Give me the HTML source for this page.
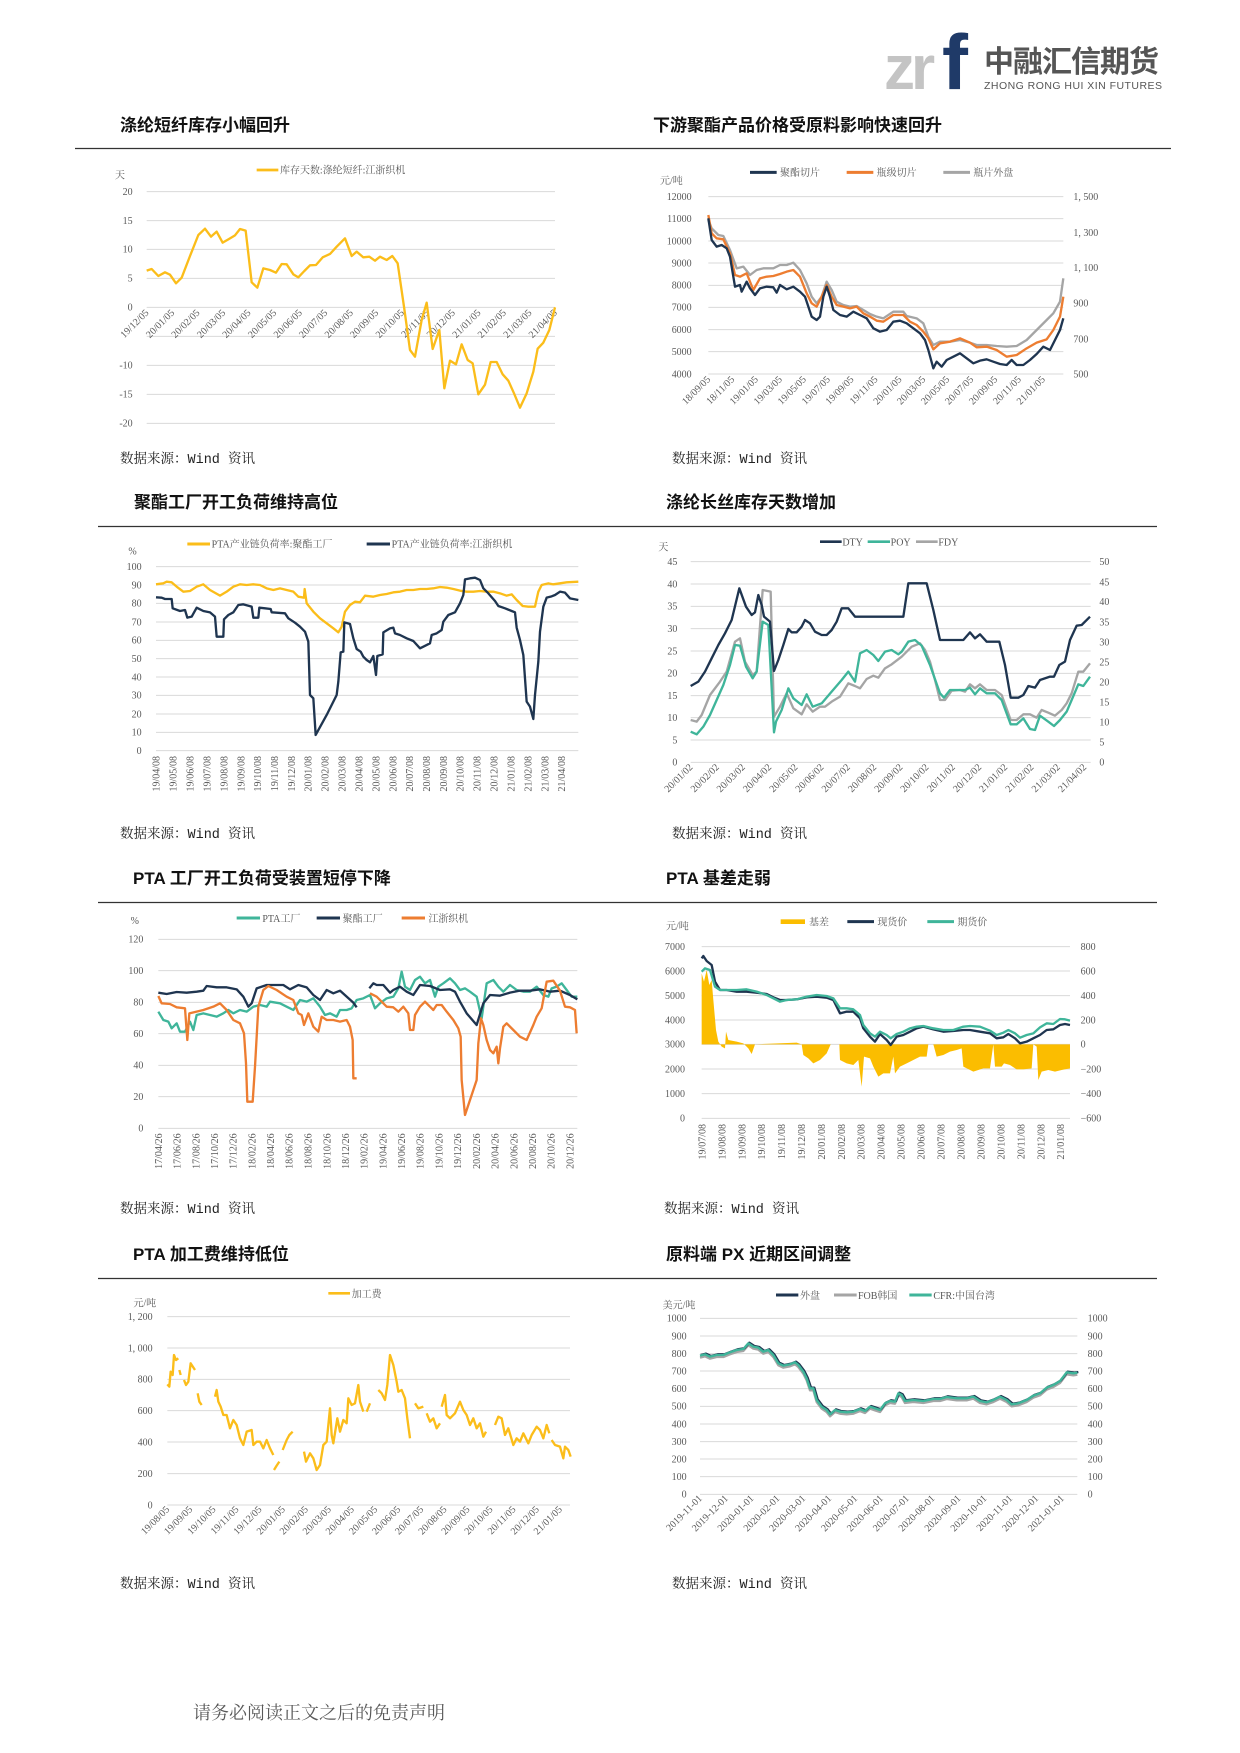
<!DOCTYPE html>
<html><head><meta charset="utf-8"><style>
html,body{margin:0;padding:0;background:#fff;}
svg{display:block;}
.t{font-family:"Liberation Serif","Noto Serif CJK SC",serif;fill:#595959;font-size:30px;}
.lg{font-family:"Liberation Serif","Noto Serif CJK SC",serif;fill:#595959;font-size:30px;}
.h{font-family:"Liberation Sans","Noto Sans CJK SC",sans-serif;font-weight:bold;font-size:17px;fill:#111;}
.src{font-family:"Liberation Mono","Noto Serif CJK SC",serif;font-size:13.5px;fill:#222;}
.g{stroke:#d9d9d9;stroke-width:3;}
.ln{fill:none;stroke-width:7;stroke-linejoin:round;}
</style></head><body>
<svg width="1240" height="1753" viewBox="0 0 1240 1753" xmlns="http://www.w3.org/2000/svg">
<rect width="1240" height="1753" fill="#fff"/>
<!-- logo -->
<text x="884" y="89" font-family="Liberation Sans,sans-serif" font-size="62" font-weight="bold" fill="#c4c4c4" letter-spacing="-4">zr</text>
<text x="942" y="89" font-family="Liberation Sans,sans-serif" font-size="78" font-weight="bold" fill="#1f3a68">f</text>
<text x="984" y="72" font-family="Liberation Sans,'Noto Sans CJK SC',sans-serif" font-size="30" font-weight="bold" fill="#555" letter-spacing="-1">中融汇信期货</text>
<text x="984" y="89" font-family="Liberation Sans,sans-serif" font-size="10.5" fill="#555" textLength="178">ZHONG RONG HUI XIN FUTURES</text>

<!-- titles -->
<text class="h" x="120" y="131">涤纶短纤库存小幅回升</text>
<text class="h" x="653" y="131">下游聚酯产品价格受原料影响快速回升</text>
<line x1="75" y1="148.5" x2="1171" y2="148.5" stroke="#333" stroke-width="1.3"/>
<text class="h" x="134" y="508">聚酯工厂开工负荷维持高位</text>
<text class="h" x="666" y="508">涤纶长丝库存天数增加</text>
<line x1="98" y1="526.5" x2="1157" y2="526.5" stroke="#333" stroke-width="1.3"/>
<text class="h" x="133" y="884">PTA 工厂开工负荷受装置短停下降</text>
<text class="h" x="666" y="884">PTA 基差走弱</text>
<line x1="98" y1="902.5" x2="1157" y2="902.5" stroke="#333" stroke-width="1.3"/>
<text class="h" x="133" y="1260">PTA 加工费维持低位</text>
<text class="h" x="666" y="1260">原料端 PX 近期区间调整</text>
<line x1="98" y1="1278.5" x2="1157" y2="1278.5" stroke="#333" stroke-width="1.3"/>

<!-- sources -->
<text class="src" x="120" y="463">数据来源：Wind 资讯</text>
<text class="src" x="672" y="463">数据来源：Wind 资讯</text>
<text class="src" x="120" y="838">数据来源：Wind 资讯</text>
<text class="src" x="672" y="838">数据来源：Wind 资讯</text>
<text class="src" x="120" y="1213">数据来源：Wind 资讯</text>
<text class="src" x="664" y="1213">数据来源：Wind 资讯</text>
<text class="src" x="120" y="1588">数据来源：Wind 资讯</text>
<text class="src" x="672" y="1588">数据来源：Wind 资讯</text>

<text x="193" y="1719" font-family="Liberation Serif,'Noto Serif CJK SC',serif" font-size="18" fill="#595959">请务必阅读正文之后的免责声明</text>

<!-- CHART 1 -->
<g transform="translate(100,150) scale(0.33333)">
<g class="g"><line x1="140" y1="125" x2="1365" y2="125"/><line x1="140" y1="212" x2="1365" y2="212"/><line x1="140" y1="298" x2="1365" y2="298"/><line x1="140" y1="385" x2="1365" y2="385"/><line x1="140" y1="472" x2="1365" y2="472"/><line x1="140" y1="559" x2="1365" y2="559"/><line x1="140" y1="646" x2="1365" y2="646"/><line x1="140" y1="733" x2="1365" y2="733"/><line x1="140" y1="820" x2="1365" y2="820"/></g>
<g class="t" text-anchor="end"><text x="98" y="135">20</text><text x="98" y="222">15</text><text x="98" y="308">10</text><text x="98" y="395">5</text><text x="98" y="482">0</text><text x="98" y="656">-10</text><text x="98" y="743">-15</text><text x="98" y="830">-20</text></g>
<text class="t" x="45" y="85">天</text>
<line x1="470" y1="60" x2="535" y2="60" stroke="#fbbd1a" stroke-width="8"/><text class="lg" x="540" y="70">库存天数:涤纶短纤:江浙织机</text>
<g class="t" text-anchor="end">
<text transform="translate(148,490) rotate(-45)">19/12/05</text><text transform="translate(225,490) rotate(-45)">20/01/05</text><text transform="translate(301,490) rotate(-45)">20/02/05</text><text transform="translate(378,490) rotate(-45)">20/03/05</text><text transform="translate(454,490) rotate(-45)">20/04/05</text><text transform="translate(531,490) rotate(-45)">20/05/05</text><text transform="translate(608,490) rotate(-45)">20/06/05</text><text transform="translate(684,490) rotate(-45)">20/07/05</text><text transform="translate(761,490) rotate(-45)">20/08/05</text><text transform="translate(837,490) rotate(-45)">20/09/05</text><text transform="translate(914,490) rotate(-45)">20/10/05</text><text transform="translate(990,490) rotate(-45)">20/11/05</text><text transform="translate(1067,490) rotate(-45)">20/12/05</text><text transform="translate(1144,490) rotate(-45)">21/01/05</text><text transform="translate(1220,490) rotate(-45)">21/02/05</text><text transform="translate(1297,490) rotate(-45)">21/03/05</text><text transform="translate(1373,490) rotate(-45)">21/04/05</text></g>
<polyline class="ln" stroke="#fbbd1a" points="140,362 155,357 175,378 195,367 210,374 228,400 245,383 270,318 295,255 315,236 333,260 350,245 368,278 385,268 405,256 420,237 437,242 455,397 472,413 490,355 510,360 528,368 545,342 560,343 580,373 595,382 613,363 630,346 648,345 668,322 690,312 710,290 735,265 755,318 770,305 790,322 808,320 825,332 840,320 860,330 877,318 893,340 912,470 930,600 945,620 965,510 980,458 998,597 1018,540 1033,715 1050,632 1068,643 1085,583 1103,630 1118,640 1135,733 1155,704 1172,636 1190,636 1208,673 1225,692 1242,730 1260,773 1280,730 1300,665 1313,596 1330,578 1348,540 1365,472"/>
</g>

<!-- CHART 2 -->
<g transform="translate(640,150) scale(0.33333)">
<g class="g"><line x1="205" y1="140" x2="1270" y2="140"/><line x1="205" y1="206" x2="1270" y2="206"/><line x1="205" y1="273" x2="1270" y2="273"/><line x1="205" y1="339" x2="1270" y2="339"/><line x1="205" y1="406" x2="1270" y2="406"/><line x1="205" y1="472" x2="1270" y2="472"/><line x1="205" y1="539" x2="1270" y2="539"/><line x1="205" y1="605" x2="1270" y2="605"/><line x1="205" y1="672" x2="1270" y2="672"/></g>
<g class="t" text-anchor="end"><text x="155" y="150">12000</text><text x="155" y="216">11000</text><text x="155" y="283">10000</text><text x="155" y="349">9000</text><text x="155" y="416">8000</text><text x="155" y="482">7000</text><text x="155" y="549">6000</text><text x="155" y="615">5000</text><text x="155" y="682">4000</text></g>
<g class="t"><text x="1300" y="150">1, 500</text><text x="1300" y="258">1, 300</text><text x="1300" y="363">1, 100</text><text x="1300" y="470">900</text><text x="1300" y="577">700</text><text x="1300" y="682">500</text></g>
<text class="t" x="60" y="102">元/吨</text>
<line x1="330" y1="67" x2="410" y2="67" stroke="#1f3550" stroke-width="9"/><text class="lg" x="420" y="78">聚酯切片</text>
<line x1="620" y1="67" x2="700" y2="67" stroke="#ed7d31" stroke-width="9"/><text class="lg" x="710" y="78">瓶级切片</text>
<line x1="910" y1="67" x2="990" y2="67" stroke="#a5a5a5" stroke-width="9"/><text class="lg" x="1000" y="78">瓶片外盘</text>
<g class="t" text-anchor="end">
<text transform="translate(213,690) rotate(-45)">18/09/05</text><text transform="translate(285,690) rotate(-45)">18/11/05</text><text transform="translate(356,690) rotate(-45)">19/01/05</text><text transform="translate(428,690) rotate(-45)">19/03/05</text><text transform="translate(500,690) rotate(-45)">19/05/05</text><text transform="translate(572,690) rotate(-45)">19/07/05</text><text transform="translate(643,690) rotate(-45)">19/09/05</text><text transform="translate(715,690) rotate(-45)">19/11/05</text><text transform="translate(787,690) rotate(-45)">20/01/05</text><text transform="translate(858,690) rotate(-45)">20/03/05</text><text transform="translate(930,690) rotate(-45)">20/05/05</text><text transform="translate(1002,690) rotate(-45)">20/07/05</text><text transform="translate(1074,690) rotate(-45)">20/09/05</text><text transform="translate(1145,690) rotate(-45)">20/11/05</text><text transform="translate(1217,690) rotate(-45)">21/01/05</text></g>
<polyline class="ln" stroke="#a5a5a5" points="205,210 215,235 235,255 250,258 270,300 290,355 310,350 330,375 350,360 370,355 400,355 420,345 440,345 460,338 480,360 500,400 515,440 530,460 545,440 560,395 575,420 590,455 610,465 630,470 650,468 670,480 690,492 710,500 730,505 760,485 790,485 800,498 830,505 850,520 865,560 880,585 900,575 930,575 960,570 990,578 1010,585 1040,585 1070,588 1100,590 1130,588 1160,570 1190,540 1220,510 1240,490 1260,455 1270,385"/>
<polyline class="ln" stroke="#ed7d31" points="205,195 215,250 230,265 250,268 270,310 285,375 300,380 320,370 340,420 360,385 380,380 400,378 420,372 440,365 460,360 480,380 500,430 515,460 530,470 545,440 560,405 575,440 590,465 610,470 630,475 650,470 670,490 690,500 710,512 730,515 760,495 790,495 810,515 830,525 850,545 865,565 880,598 900,580 930,575 960,565 990,578 1010,592 1040,590 1070,600 1100,620 1130,615 1160,595 1190,578 1220,568 1240,540 1260,500 1270,440"/>
<polyline class="ln" stroke="#1f3550" points="205,205 215,270 230,290 245,285 260,295 270,320 285,410 300,405 305,425 320,395 330,415 345,435 360,415 380,410 400,412 410,428 420,405 440,418 460,410 480,425 495,440 505,470 515,500 530,510 540,500 550,440 560,410 570,440 580,480 600,495 620,500 640,485 660,495 680,505 700,535 720,545 740,540 760,515 780,512 800,520 820,535 840,550 855,570 865,600 880,655 890,635 905,650 920,630 940,620 960,610 980,625 1000,640 1020,632 1040,628 1060,635 1080,642 1100,645 1115,630 1130,645 1150,645 1170,630 1190,612 1210,590 1230,600 1245,570 1260,540 1270,505"/>
</g>

<!-- CHART 3 -->
<g transform="translate(100,525) scale(0.33333)">
<g class="g"><line x1="168" y1="125" x2="1435" y2="125"/><line x1="168" y1="180" x2="1435" y2="180"/><line x1="168" y1="235" x2="1435" y2="235"/><line x1="168" y1="291" x2="1435" y2="291"/><line x1="168" y1="346" x2="1435" y2="346"/><line x1="168" y1="401" x2="1435" y2="401"/><line x1="168" y1="456" x2="1435" y2="456"/><line x1="168" y1="511" x2="1435" y2="511"/><line x1="168" y1="567" x2="1435" y2="567"/><line x1="168" y1="622" x2="1435" y2="622"/><line x1="168" y1="677" x2="1435" y2="677"/></g>
<g class="t" text-anchor="end"><text x="125" y="135">100</text><text x="125" y="190">90</text><text x="125" y="245">80</text><text x="125" y="301">70</text><text x="125" y="356">60</text><text x="125" y="411">50</text><text x="125" y="466">40</text><text x="125" y="521">30</text><text x="125" y="577">20</text><text x="125" y="632">10</text><text x="125" y="687">0</text></g>
<text class="t" x="85" y="88">%</text>
<line x1="262" y1="57" x2="330" y2="57" stroke="#fbbd1a" stroke-width="9"/><text class="lg" x="335" y="68">PTA产业链负荷率:聚酯工厂</text>
<line x1="800" y1="57" x2="870" y2="57" stroke="#1f3550" stroke-width="9"/><text class="lg" x="875" y="68">PTA产业链负荷率:江浙织机</text>
<g class="t" text-anchor="end">
<text transform="translate(179,693) rotate(-90)">19/04/08</text><text transform="translate(230,693) rotate(-90)">19/05/08</text><text transform="translate(281,693) rotate(-90)">19/06/08</text><text transform="translate(331,693) rotate(-90)">19/07/08</text><text transform="translate(382,693) rotate(-90)">19/08/08</text><text transform="translate(433,693) rotate(-90)">19/09/08</text><text transform="translate(483,693) rotate(-90)">19/10/08</text><text transform="translate(534,693) rotate(-90)">19/11/08</text><text transform="translate(585,693) rotate(-90)">19/12/08</text><text transform="translate(635,693) rotate(-90)">20/01/08</text><text transform="translate(686,693) rotate(-90)">20/02/08</text><text transform="translate(737,693) rotate(-90)">20/03/08</text><text transform="translate(787,693) rotate(-90)">20/04/08</text><text transform="translate(838,693) rotate(-90)">20/05/08</text><text transform="translate(889,693) rotate(-90)">20/06/08</text><text transform="translate(939,693) rotate(-90)">20/07/08</text><text transform="translate(990,693) rotate(-90)">20/08/08</text><text transform="translate(1041,693) rotate(-90)">20/09/08</text><text transform="translate(1091,693) rotate(-90)">20/10/08</text><text transform="translate(1142,693) rotate(-90)">20/11/08</text><text transform="translate(1193,693) rotate(-90)">20/12/08</text><text transform="translate(1243,693) rotate(-90)">21/01/08</text><text transform="translate(1294,693) rotate(-90)">21/02/08</text><text transform="translate(1345,693) rotate(-90)">21/03/08</text><text transform="translate(1395,693) rotate(-90)">21/04/08</text></g>
<polyline class="ln" stroke="#fbbd1a" points="168,178 190,175 200,170 215,172 230,185 250,200 270,198 290,185 310,178 330,195 360,212 380,200 400,185 420,178 440,180 460,178 480,180 500,190 520,195 540,190 560,195 580,200 595,215 612,218 614,192 620,235 640,260 660,280 680,295 700,310 715,322 725,305 735,260 750,240 765,230 780,232 795,212 820,215 840,210 860,207 880,202 900,200 920,195 940,195 960,192 980,192 1000,190 1020,186 1040,188 1060,192 1080,197 1100,200 1120,200 1140,198 1160,200 1180,200 1200,205 1220,212 1235,208 1250,225 1268,243 1285,245 1305,245 1315,200 1325,180 1345,175 1360,178 1380,175 1400,172 1435,170"/>
<polyline class="ln" stroke="#1f3550" points="168,217 185,218 195,222 215,222 218,250 240,258 255,255 262,278 275,275 290,248 310,258 330,262 345,275 350,335 370,335 372,283 385,270 400,262 415,240 430,238 455,245 460,278 475,278 478,248 495,250 512,252 515,262 555,265 565,280 585,293 600,305 615,320 625,350 630,510 640,520 647,630 680,570 710,510 715,470 722,382 730,380 733,292 750,297 760,340 770,372 782,380 790,395 800,405 810,412 820,393 828,450 832,393 848,388 850,322 870,310 880,308 885,325 900,330 920,340 940,348 960,370 970,365 990,355 995,330 1010,325 1025,315 1030,290 1045,270 1065,262 1080,235 1090,210 1095,163 1110,160 1125,158 1140,165 1150,190 1165,205 1185,228 1195,243 1215,250 1235,258 1245,262 1250,308 1260,345 1270,390 1280,530 1290,545 1300,582 1305,510 1315,410 1320,320 1330,245 1340,218 1355,214 1365,210 1380,200 1395,203 1410,220 1435,225"/>
</g>

<!-- CHART 4 -->
<g transform="translate(640,525) scale(0.33333)">
<g class="g"><line x1="152" y1="110" x2="1352" y2="110"/><line x1="152" y1="177" x2="1352" y2="177"/><line x1="152" y1="244" x2="1352" y2="244"/><line x1="152" y1="311" x2="1352" y2="311"/><line x1="152" y1="378" x2="1352" y2="378"/><line x1="152" y1="445" x2="1352" y2="445"/><line x1="152" y1="512" x2="1352" y2="512"/><line x1="152" y1="578" x2="1352" y2="578"/><line x1="152" y1="645" x2="1352" y2="645"/><line x1="152" y1="712" x2="1352" y2="712"/></g>
<g class="t" text-anchor="end"><text x="112" y="120">45</text><text x="112" y="187">40</text><text x="112" y="254">35</text><text x="112" y="321">30</text><text x="112" y="388">25</text><text x="112" y="455">20</text><text x="112" y="522">15</text><text x="112" y="588">10</text><text x="112" y="655">5</text><text x="112" y="722">0</text></g>
<g class="t"><text x="1378" y="120">50</text><text x="1378" y="182">45</text><text x="1378" y="240">40</text><text x="1378" y="302">35</text><text x="1378" y="362">30</text><text x="1378" y="422">25</text><text x="1378" y="482">20</text><text x="1378" y="542">15</text><text x="1378" y="602">10</text><text x="1378" y="662">5</text><text x="1378" y="722">0</text></g>
<text class="t" x="55" y="76">天</text>
<line x1="540" y1="50" x2="605" y2="50" stroke="#1f3550" stroke-width="8"/><text class="lg" x="607" y="62" font-size="26">DTY</text>
<line x1="683" y1="50" x2="750" y2="50" stroke="#3fb59a" stroke-width="8"/><text class="lg" x="752" y="62" font-size="26">POY</text>
<line x1="828" y1="50" x2="893" y2="50" stroke="#a5a5a5" stroke-width="8"/><text class="lg" x="895" y="62" font-size="26">FDY</text>
<g class="t" text-anchor="end">
<text transform="translate(160,728) rotate(-45)">20/01/02</text><text transform="translate(239,728) rotate(-45)">20/02/02</text><text transform="translate(317,728) rotate(-45)">20/03/02</text><text transform="translate(396,728) rotate(-45)">20/04/02</text><text transform="translate(475,728) rotate(-45)">20/05/02</text><text transform="translate(553,728) rotate(-45)">20/06/02</text><text transform="translate(632,728) rotate(-45)">20/07/02</text><text transform="translate(711,728) rotate(-45)">20/08/02</text><text transform="translate(790,728) rotate(-45)">20/09/02</text><text transform="translate(868,728) rotate(-45)">20/10/02</text><text transform="translate(947,728) rotate(-45)">20/11/02</text><text transform="translate(1026,728) rotate(-45)">20/12/02</text><text transform="translate(1104,728) rotate(-45)">21/01/02</text><text transform="translate(1183,728) rotate(-45)">21/02/02</text><text transform="translate(1262,728) rotate(-45)">21/03/02</text><text transform="translate(1341,728) rotate(-45)">21/04/02</text></g>
<polyline class="ln" stroke="#a5a5a5" points="152,585 170,590 185,570 210,510 240,470 260,440 285,350 300,340 315,410 338,450 350,440 368,195 392,200 402,575 420,545 440,505 460,550 485,568 500,538 518,560 540,545 555,545 575,530 600,515 625,475 645,483 660,490 680,462 700,452 715,458 735,430 755,418 785,395 800,380 815,365 840,355 855,375 870,410 885,465 900,525 915,525 935,497 960,495 975,500 990,478 1005,490 1020,478 1040,495 1065,495 1085,510 1112,585 1130,585 1150,568 1170,568 1190,578 1205,555 1225,563 1245,572 1265,555 1280,535 1295,505 1315,440 1330,440 1350,415"/>
<polyline class="ln" stroke="#3fb59a" points="152,620 170,628 190,605 210,570 230,525 250,480 270,420 285,360 300,362 318,425 338,460 350,440 368,290 385,300 402,622 408,590 425,555 445,490 460,520 485,540 500,508 518,545 545,535 575,500 605,465 625,440 645,470 660,385 680,375 700,390 715,408 735,380 755,375 775,388 785,380 805,350 825,345 845,362 870,420 900,505 912,518 930,495 960,495 975,495 990,488 1005,508 1020,490 1040,505 1065,505 1085,525 1112,598 1130,598 1150,580 1170,612 1185,615 1200,572 1225,590 1242,603 1260,585 1280,560 1295,525 1315,478 1330,483 1350,455"/>
<polyline class="ln" stroke="#1f3550" points="152,483 175,470 195,440 215,400 235,360 255,325 275,285 298,190 318,245 335,270 345,262 355,210 365,240 372,275 390,290 402,438 415,405 430,360 445,312 455,322 470,322 485,305 495,285 510,295 525,320 545,330 560,330 575,315 590,290 605,250 625,250 645,275 700,275 760,275 790,275 805,175 860,175 880,255 900,345 970,345 990,322 1005,340 1020,328 1040,350 1078,350 1095,420 1112,518 1135,518 1150,510 1165,483 1185,488 1200,465 1230,455 1242,455 1258,420 1275,410 1290,345 1310,302 1325,300 1350,275"/>
</g>

<!-- CHART 5 -->
<g transform="translate(100,900) scale(0.33333)">
<g class="g"><line x1="175" y1="118" x2="1432" y2="118"/><line x1="175" y1="212" x2="1432" y2="212"/><line x1="175" y1="307" x2="1432" y2="307"/><line x1="175" y1="401" x2="1432" y2="401"/><line x1="175" y1="496" x2="1432" y2="496"/><line x1="175" y1="590" x2="1432" y2="590"/><line x1="175" y1="685" x2="1432" y2="685"/></g>
<g class="t" text-anchor="end"><text x="130" y="128">120</text><text x="130" y="222">100</text><text x="130" y="317">80</text><text x="130" y="411">60</text><text x="130" y="506">40</text><text x="130" y="600">20</text><text x="130" y="695">0</text></g>
<text class="t" x="92" y="72">%</text>
<line x1="410" y1="54" x2="480" y2="54" stroke="#3fb59a" stroke-width="9"/><text class="lg" x="487" y="66">PTA工厂</text>
<line x1="650" y1="54" x2="720" y2="54" stroke="#1f3550" stroke-width="9"/><text class="lg" x="728" y="66">聚酯工厂</text>
<line x1="905" y1="54" x2="975" y2="54" stroke="#ed7d31" stroke-width="9"/><text class="lg" x="985" y="66">江浙织机</text>
<g class="t" text-anchor="end">
<text transform="translate(186,700) rotate(-90)">17/04/26</text><text transform="translate(242,700) rotate(-90)">17/06/26</text><text transform="translate(298,700) rotate(-90)">17/08/26</text><text transform="translate(354,700) rotate(-90)">17/10/26</text><text transform="translate(410,700) rotate(-90)">17/12/26</text><text transform="translate(466,700) rotate(-90)">18/02/26</text><text transform="translate(522,700) rotate(-90)">18/04/26</text><text transform="translate(578,700) rotate(-90)">18/06/26</text><text transform="translate(635,700) rotate(-90)">18/08/26</text><text transform="translate(691,700) rotate(-90)">18/10/26</text><text transform="translate(747,700) rotate(-90)">18/12/26</text><text transform="translate(803,700) rotate(-90)">19/02/26</text><text transform="translate(859,700) rotate(-90)">19/04/26</text><text transform="translate(915,700) rotate(-90)">19/06/26</text><text transform="translate(971,700) rotate(-90)">19/08/26</text><text transform="translate(1027,700) rotate(-90)">19/10/26</text><text transform="translate(1083,700) rotate(-90)">19/12/26</text><text transform="translate(1140,700) rotate(-90)">20/02/26</text><text transform="translate(1196,700) rotate(-90)">20/04/26</text><text transform="translate(1252,700) rotate(-90)">20/06/26</text><text transform="translate(1308,700) rotate(-90)">20/08/26</text><text transform="translate(1364,700) rotate(-90)">20/10/26</text><text transform="translate(1420,700) rotate(-90)">20/12/26</text></g>
<polyline class="ln" stroke="#3fb59a" points="175,335 190,360 205,365 215,385 230,370 240,395 255,395 270,365 280,390 290,345 310,340 330,345 350,350 370,340 385,330 400,340 420,330 440,335 460,320 480,315 500,320 510,305 540,310 560,320 580,330 600,300 620,305 640,295 660,320 675,345 690,340 710,350 720,330 740,330 755,325 770,300 790,295 810,285 825,325 840,310 860,295 880,290 895,265 905,215 915,260 930,270 945,240 960,230 975,250 990,240 1005,290 1015,260 1030,250 1050,235 1065,250 1080,270 1095,265 1110,275 1130,290 1145,355 1160,250 1180,240 1195,260 1210,275 1230,255 1250,270 1270,275 1290,275 1310,260 1330,285 1345,290 1355,265 1370,260 1385,250 1400,270 1415,290 1432,290"/>
<polyline class="ln" stroke="#1f3550" points="175,278 200,282 230,276 260,278 290,275 310,272 320,258 350,262 380,262 410,268 430,290 445,320 455,310 470,265 500,255 550,255 570,268 595,255 620,262 640,285 660,300 680,270 700,280 720,272 740,290 760,308 770,322"/>
<polyline class="ln" stroke="#1f3550" points="808,265 820,250 830,255 850,255 870,278 880,270 900,260 920,275 940,285 960,255 990,258 1020,270 1050,268 1065,275 1080,305 1100,340 1130,375 1150,310 1170,285 1200,287 1230,278 1260,272 1290,272 1320,268 1350,275 1380,272 1410,285 1432,298"/>
<polyline class="ln" stroke="#ed7d31" points="175,288 185,310 210,312 230,322 255,325 262,420 268,340 290,335 310,330 340,320 360,310 380,330 400,360 420,370 432,400 438,490 442,605 458,605 465,500 475,320 490,270 505,258 530,270 560,290 580,300 595,340 605,345 612,375 625,340 640,380 655,395 665,350 680,360 700,360 720,365 740,360 750,380 758,420 760,535 770,535"/>
<polyline class="ln" stroke="#ed7d31" points="810,280 830,290 860,320 880,322 895,335 910,320 925,340 930,390 940,390 945,345 960,320 975,305 990,320 1000,330 1010,315 1025,315 1040,335 1060,360 1075,385 1082,410 1085,540 1095,645 1130,540 1135,430 1143,355 1150,375 1160,420 1170,450 1180,460 1190,440 1195,490 1200,445 1210,380 1220,370 1240,390 1260,410 1280,420 1300,375 1310,350 1325,325 1340,245 1360,242 1380,272 1395,320 1410,322 1425,330 1430,400"/>
</g>

<!-- CHART 6 -->
<g transform="translate(640,900) scale(0.33333)">
<g class="g"><line x1="185" y1="140" x2="1290" y2="140"/><line x1="185" y1="213" x2="1290" y2="213"/><line x1="185" y1="287" x2="1290" y2="287"/><line x1="185" y1="360" x2="1290" y2="360"/><line x1="185" y1="433" x2="1290" y2="433"/><line x1="185" y1="507" x2="1290" y2="507"/><line x1="185" y1="581" x2="1290" y2="581"/><line x1="185" y1="655" x2="1290" y2="655"/></g>
<g class="t" text-anchor="end"><text x="135" y="150">7000</text><text x="135" y="223">6000</text><text x="135" y="297">5000</text><text x="135" y="370">4000</text><text x="135" y="443">3000</text><text x="135" y="517">2000</text><text x="135" y="591">1000</text><text x="135" y="665">0</text></g>
<g class="t"><text x="1322" y="150">800</text><text x="1322" y="223">600</text><text x="1322" y="297">400</text><text x="1322" y="370">200</text><text x="1322" y="443">0</text><text x="1322" y="517">−200</text><text x="1322" y="591">−400</text><text x="1322" y="665">−600</text></g>
<text class="t" x="78" y="88">元/吨</text>
<rect x="422" y="58" width="73" height="14" fill="#fbbd00"/><text class="lg" x="507" y="76">基差</text>
<line x1="622" y1="65" x2="702" y2="65" stroke="#1f3550" stroke-width="9"/><text class="lg" x="712" y="76">现货价</text>
<line x1="862" y1="65" x2="942" y2="65" stroke="#3fb59a" stroke-width="9"/><text class="lg" x="952" y="76">期货价</text>
<g class="t" text-anchor="end">
<text transform="translate(196,672) rotate(-90)">19/07/08</text><text transform="translate(256,672) rotate(-90)">19/08/08</text><text transform="translate(316,672) rotate(-90)">19/09/08</text><text transform="translate(375,672) rotate(-90)">19/10/08</text><text transform="translate(435,672) rotate(-90)">19/11/08</text><text transform="translate(495,672) rotate(-90)">19/12/08</text><text transform="translate(555,672) rotate(-90)">20/01/08</text><text transform="translate(615,672) rotate(-90)">20/02/08</text><text transform="translate(674,672) rotate(-90)">20/03/08</text><text transform="translate(734,672) rotate(-90)">20/04/08</text><text transform="translate(794,672) rotate(-90)">20/05/08</text><text transform="translate(854,672) rotate(-90)">20/06/08</text><text transform="translate(914,672) rotate(-90)">20/07/08</text><text transform="translate(973,672) rotate(-90)">20/08/08</text><text transform="translate(1033,672) rotate(-90)">20/09/08</text><text transform="translate(1093,672) rotate(-90)">20/10/08</text><text transform="translate(1153,672) rotate(-90)">20/11/08</text><text transform="translate(1213,672) rotate(-90)">20/12/08</text><text transform="translate(1272,672) rotate(-90)">21/01/08</text></g>
<polygon fill="#fbbd00" points="185,433 185,220 192,245 200,210 208,255 215,240 220,300 228,390 235,425 245,440 255,445 258,395 265,420 290,425 310,430 325,445 335,462 345,433 470,428 485,433 490,465 505,475 520,490 540,480 560,460 572,433 598,433 600,480 620,490 640,495 655,480 665,560 672,470 690,475 700,500 715,530 730,520 750,520 760,470 765,520 780,500 800,490 820,480 840,470 860,470 865,433 880,433 890,470 910,465 930,455 950,450 965,445 970,500 1000,515 1030,505 1050,505 1060,433 1065,500 1085,500 1092,490 1110,495 1130,508 1150,508 1175,505 1180,433 1190,440 1195,540 1205,515 1225,510 1245,515 1265,510 1290,505 1290,433"/>
<polyline class="ln" stroke="#1f3550" points="185,175 190,168 200,183 215,195 225,245 240,270 260,270 290,275 320,275 350,278 380,282 400,292 420,300 440,300 470,298 500,292 530,290 560,293 580,300 600,340 620,335 640,335 660,355 670,385 690,410 705,425 720,402 740,420 752,435 770,410 790,405 810,395 830,385 850,380 880,388 910,395 940,393 970,390 990,390 1020,395 1050,400 1070,415 1090,412 1105,402 1125,415 1140,430 1160,425 1180,415 1200,405 1220,390 1240,388 1260,375 1275,372 1290,375"/>
<polyline class="ln" stroke="#3fb59a" points="185,215 195,205 210,210 225,260 240,270 260,270 290,270 320,268 350,275 380,285 400,295 420,305 440,300 470,298 500,290 530,285 560,288 580,295 600,325 620,325 640,328 660,345 670,375 690,400 705,410 720,395 740,405 752,415 770,402 790,395 810,385 830,380 850,378 880,385 910,390 940,390 970,380 990,378 1020,380 1050,392 1070,405 1090,398 1105,390 1125,400 1140,413 1160,405 1180,400 1200,382 1220,370 1240,372 1260,357 1275,358 1290,362"/>
</g>

<!-- CHART 7 -->
<g transform="translate(100,1275) scale(0.33333)">
<g class="g"><line x1="202" y1="125" x2="1410" y2="125"/><line x1="202" y1="219" x2="1410" y2="219"/><line x1="202" y1="313" x2="1410" y2="313"/><line x1="202" y1="407" x2="1410" y2="407"/><line x1="202" y1="501" x2="1410" y2="501"/><line x1="202" y1="596" x2="1410" y2="596"/><line x1="202" y1="690" x2="1410" y2="690"/></g>
<g class="t" text-anchor="end"><text x="158" y="135">1, 200</text><text x="158" y="229">1, 000</text><text x="158" y="323">800</text><text x="158" y="417">600</text><text x="158" y="511">400</text><text x="158" y="606">200</text><text x="158" y="700">0</text></g>
<text class="t" x="100" y="95">元/吨</text>
<line x1="685" y1="55" x2="750" y2="55" stroke="#fbbd1a" stroke-width="8"/><text class="lg" x="755" y="67">加工费</text>
<g class="t" text-anchor="end">
<text transform="translate(210,705) rotate(-45)">19/08/05</text><text transform="translate(279,705) rotate(-45)">19/09/05</text><text transform="translate(349,705) rotate(-45)">19/10/05</text><text transform="translate(418,705) rotate(-45)">19/11/05</text><text transform="translate(487,705) rotate(-45)">19/12/05</text><text transform="translate(557,705) rotate(-45)">20/01/05</text><text transform="translate(626,705) rotate(-45)">20/02/05</text><text transform="translate(695,705) rotate(-45)">20/03/05</text><text transform="translate(764,705) rotate(-45)">20/04/05</text><text transform="translate(834,705) rotate(-45)">20/05/05</text><text transform="translate(903,705) rotate(-45)">20/06/05</text><text transform="translate(972,705) rotate(-45)">20/07/05</text><text transform="translate(1042,705) rotate(-45)">20/08/05</text><text transform="translate(1111,705) rotate(-45)">20/09/05</text><text transform="translate(1180,705) rotate(-45)">20/10/05</text><text transform="translate(1249,705) rotate(-45)">20/11/05</text><text transform="translate(1319,705) rotate(-45)">20/12/05</text><text transform="translate(1388,705) rotate(-45)">21/01/05</text></g>
<g class="ln" stroke="#fbbd1a">
<polyline points="202,328 208,335 212,290 218,300 222,240 228,255 235,250"/>
<polyline points="238,285 242,300"/>
<polyline points="252,315 258,330 265,320 272,265 285,285"/>
<polyline points="293,355 298,380 305,390"/>
<polyline points="345,365 350,345 355,380 362,395 370,420 380,420 390,460 400,435 410,450 420,490 430,510 440,470 455,465 460,510 470,500 480,500 490,520 500,495 510,520 520,540"/>
<polyline points="522,585 530,572 538,560"/>
<polyline points="548,525 560,495 568,480 578,470"/>
<polyline points="612,530 618,560 630,535 640,550 650,585 660,570 670,510 680,500 690,400 695,480 700,505 712,430 720,470 730,435 740,445 745,370 755,390 765,385 775,330 780,380 790,410"/>
<polyline points="800,410 810,385"/>
<polyline points="835,345 845,355 855,375 862,330 870,240 880,270 890,320 895,350 905,345 915,370 922,430 930,490"/>
<polyline points="945,385 955,400 970,395"/>
<polyline points="980,415 990,440 1000,430 1010,460 1020,445"/>
<polyline points="1025,395 1035,360 1040,420 1050,430 1065,415 1080,380 1090,405 1100,420 1110,450 1120,430 1130,460 1140,445 1150,485 1158,470"/>
<polyline points="1185,450 1195,425 1205,430 1215,480 1225,460 1240,510 1250,490 1260,500 1270,475 1285,505 1295,480 1310,455 1320,465 1330,490 1340,450 1348,475"/>
<polyline points="1355,495 1365,510 1380,515 1390,550 1395,515 1405,525 1412,545"/>
</g>
</g>

<!-- CHART 8 -->
<g transform="translate(640,1275) scale(0.33333)">
<g class="g"><line x1="180" y1="130" x2="1312" y2="130"/><line x1="180" y1="183" x2="1312" y2="183"/><line x1="180" y1="236" x2="1312" y2="236"/><line x1="180" y1="288" x2="1312" y2="288"/><line x1="180" y1="341" x2="1312" y2="341"/><line x1="180" y1="394" x2="1312" y2="394"/><line x1="180" y1="447" x2="1312" y2="447"/><line x1="180" y1="500" x2="1312" y2="500"/><line x1="180" y1="552" x2="1312" y2="552"/><line x1="180" y1="605" x2="1312" y2="605"/><line x1="180" y1="658" x2="1312" y2="658"/></g>
<g class="t" text-anchor="end"><text x="140" y="140">1000</text><text x="140" y="193">900</text><text x="140" y="246">800</text><text x="140" y="298">700</text><text x="140" y="351">600</text><text x="140" y="404">500</text><text x="140" y="457">400</text><text x="140" y="510">300</text><text x="140" y="562">200</text><text x="140" y="615">100</text><text x="140" y="668">0</text></g>
<g class="t"><text x="1343" y="140">1000</text><text x="1343" y="193">900</text><text x="1343" y="246">800</text><text x="1343" y="298">700</text><text x="1343" y="351">600</text><text x="1343" y="404">500</text><text x="1343" y="457">400</text><text x="1343" y="510">300</text><text x="1343" y="562">200</text><text x="1343" y="615">100</text><text x="1343" y="668">0</text></g>
<text class="t" x="68" y="100">美元/吨</text>
<line x1="408" y1="60" x2="475" y2="60" stroke="#1f3550" stroke-width="9"/><text class="lg" x="480" y="72">外盘</text>
<line x1="582" y1="60" x2="650" y2="60" stroke="#a5a5a5" stroke-width="9"/><text class="lg" x="654" y="72">FOB韩国</text>
<line x1="808" y1="60" x2="875" y2="60" stroke="#3fb59a" stroke-width="9"/><text class="lg" x="880" y="72">CFR:中国台湾</text>
<g class="t" text-anchor="end">
<text transform="translate(188,672) rotate(-45)">2019-11-01</text><text transform="translate(266,672) rotate(-45)">2019-12-01</text><text transform="translate(343,672) rotate(-45)">2020-01-01</text><text transform="translate(421,672) rotate(-45)">2020-02-01</text><text transform="translate(498,672) rotate(-45)">2020-03-01</text><text transform="translate(576,672) rotate(-45)">2020-04-01</text><text transform="translate(654,672) rotate(-45)">2020-05-01</text><text transform="translate(731,672) rotate(-45)">2020-06-01</text><text transform="translate(809,672) rotate(-45)">2020-07-01</text><text transform="translate(886,672) rotate(-45)">2020-08-01</text><text transform="translate(964,672) rotate(-45)">2020-09-01</text><text transform="translate(1042,672) rotate(-45)">2020-10-01</text><text transform="translate(1119,672) rotate(-45)">2020-11-01</text><text transform="translate(1197,672) rotate(-45)">2020-12-01</text><text transform="translate(1274,672) rotate(-45)">2021-01-01</text></g>
<polyline class="ln" stroke="#a5a5a5" transform="translate(0,6)" points="180,242 195,238 210,245 230,240 250,240 270,232 290,225 310,222 325,205 340,215 355,218 370,230 385,225 400,240 415,265 430,272 450,268 465,262 475,270 490,290 500,310 510,340 520,340 530,375 545,395 560,405 570,418 585,405 600,410 620,412 640,410 660,402 675,408 690,395 705,400 720,405 735,385 750,378 765,380 775,355 785,360 795,378 820,375 850,378 880,372 900,372 920,366 950,370 980,370 1000,365 1020,378 1040,382 1060,375 1080,365 1100,375 1115,388 1135,385 1160,375 1180,362 1200,355 1220,338 1240,330 1260,318 1270,305 1280,292 1300,295 1312,293"/>
<polyline class="ln" stroke="#1f3550" transform="translate(3,-2)" points="180,242 195,238 210,245 230,240 250,240 270,232 290,225 310,222 325,205 340,215 355,218 370,230 385,225 400,240 415,265 430,272 450,268 465,262 475,270 490,290 500,310 510,340 520,340 530,375 545,395 560,405 570,418 585,405 600,410 620,412 640,410 660,402 675,408 690,395 705,400 720,405 735,385 750,378 765,380 775,355 785,360 795,378 820,375 850,378 880,372 900,372 920,366 950,370 980,370 1000,365 1020,378 1040,382 1060,375 1080,365 1100,375 1115,388 1135,385 1160,375 1180,362 1200,355 1220,338 1240,330 1260,318 1270,305 1280,292 1300,295 1312,293"/>
<polyline class="ln" stroke="#3fb59a" points="180,242 195,238 210,245 230,240 250,240 270,232 290,225 310,222 325,205 340,215 355,218 370,230 385,225 400,240 415,265 430,272 450,268 465,262 475,270 490,290 500,310 510,340 520,340 530,375 545,395 560,405 570,418 585,405 600,410 620,412 640,410 660,402 675,408 690,395 705,400 720,405 735,385 750,378 765,380 775,355 785,360 795,378 820,375 850,378 880,372 900,372 920,366 950,370 980,370 1000,365 1020,378 1040,382 1060,375 1080,365 1100,375 1115,388 1135,385 1160,375 1180,362 1200,355 1220,338 1240,330 1260,318 1270,305 1280,292 1300,295 1312,293"/>
</g>
</svg>
</body></html>
